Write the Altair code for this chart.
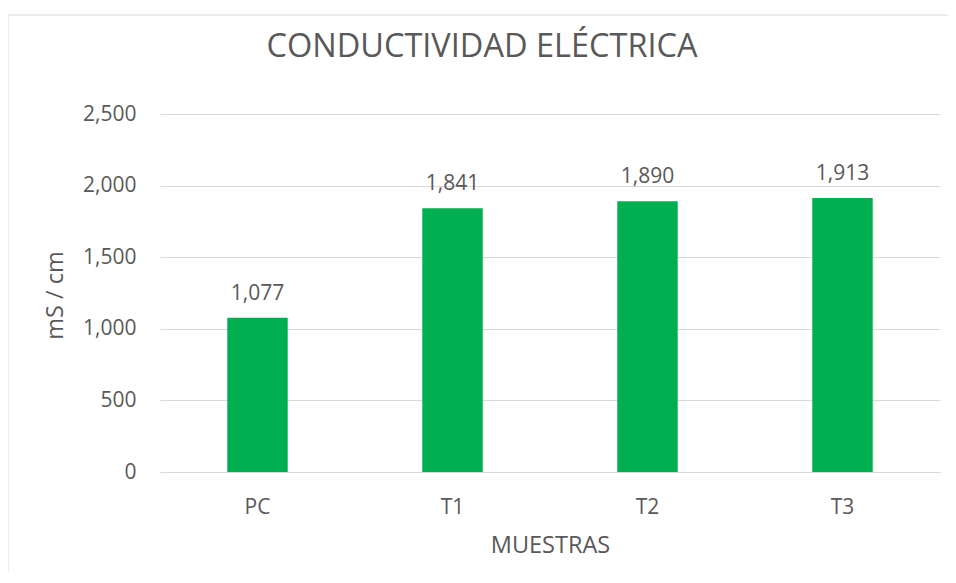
import altair as alt
import pandas as pd

categories = ["PC", "T1", "T2", "T3"]
values = [1077, 1841, 1890, 1913]
value_labels = ["1,077", "1,841", "1,890", "1,913"]
title_text = "CONDUCTIVIDAD ELÉCTRICA"
y_title = "mS / cm"
x_title = "MUESTRAS"

df = pd.DataFrame({"cat": categories, "val": values, "lbl": value_labels})

FONT = "Open Sans"
TXT = "#595959"
GRID = "#d9d9d9"
GREEN = "#00B050"

W, H = 780, 358

base = alt.Chart(df)

bars = base.mark_bar(color=GREEN).encode(
    x=alt.X("cat:N", sort=categories,
            scale=alt.Scale(paddingInner=0.69, paddingOuter=0.345),
            axis=alt.Axis(title=x_title, labelAngle=0, ticks=False,
                          domain=True, domainColor=GRID, domainWidth=1,
                          labelPadding=24, labelFontSize=21, labelColor=TXT,
                          labelFont=FONT, titleFont=FONT, titleFontSize=23.5,
                          titleFontWeight="normal", titleColor=TXT,
                          titleBaseline="alphabetic", titleY=80)),
    y=alt.Y("val:Q", scale=alt.Scale(domain=[0, 2500], nice=False),
            axis=alt.Axis(title=y_title, values=[0, 500, 1000, 1500, 2000, 2500],
                          format=",d", ticks=False, domain=False,
                          gridColor=GRID, gridWidth=1,
                          labelPadding=24, labelFontSize=21, labelColor=TXT,
                          labelFont=FONT, titleFont=FONT, titleFontSize=23.5,
                          titleFontWeight="normal", titleColor=TXT,
                          titleBaseline="alphabetic", titleX=-98, titleY=181,
                          titleAngle=270)),
)

labels = base.mark_text(font=FONT, fontSize=21, color=TXT,
                        baseline="alphabetic", dy=-18).encode(
    x=alt.X("cat:N", sort=categories),
    y="val:Q",
    text="lbl:N",
)

title = alt.Chart(pd.DataFrame({"t": [title_text]})).mark_text(
    font=FONT, fontSize=32.5, color=TXT, baseline="alphabetic", align="center"
).encode(text="t:N", x=alt.value(322), y=alt.value(-57))

border = alt.Chart(pd.DataFrame({"a": [0]})).mark_rect(
    fill=None, stroke=GRID, strokeWidth=1
).encode(x=alt.value(-152), y=alt.value(-99), x2=alt.value(900), y2=alt.value(600))

chart = alt.layer(border, bars, labels, title).properties(
    width=W, height=H,
    autosize=alt.AutoSizeParams(type="none"),
    padding={"left": 152, "top": 106, "right": 8, "bottom": 100},
).configure_view(stroke=None)

chart.save("out.html", embed_options={"renderer": "svg", "actions": False})
